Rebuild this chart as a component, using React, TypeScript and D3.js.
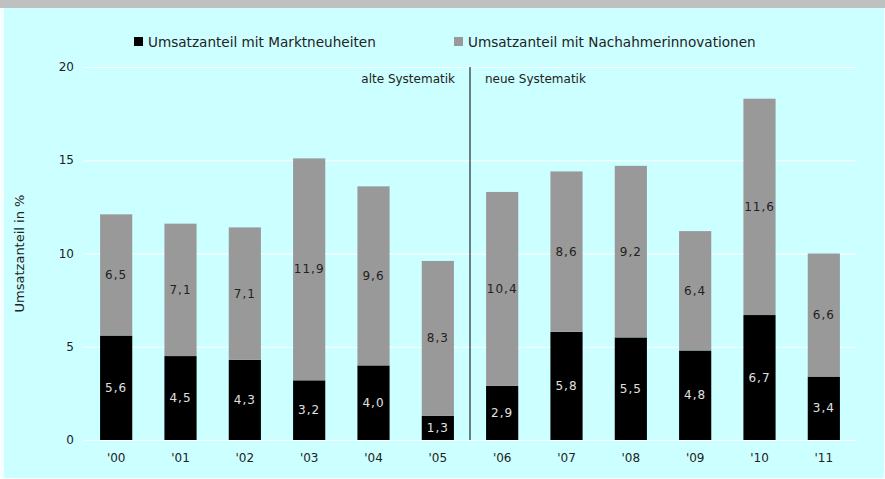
import { useRef, useEffect } from "react";
import * as d3 from "d3";

const years = ["'00", "'01", "'02", "'03", "'04", "'05", "'06", "'07", "'08", "'09", "'10", "'11"];
const marktneuheiten = [5.6, 4.5, 4.3, 3.2, 4.0, 1.3, 2.9, 5.8, 5.5, 4.8, 6.7, 3.4];
const nachahmer = [6.5, 7.1, 7.1, 11.9, 9.6, 8.3, 10.4, 8.6, 9.2, 6.4, 11.6, 6.6];
const yTicks = [0, 5, 10, 15, 20];
const seriesNames = ["Umsatzanteil mit Marktneuheiten", "Umsatzanteil mit Nachahmerinnovationen"];
const colors = ["#000000", "#999999"];

const W = 885;
const H = 479;
const font = "DejaVu Sans, Verdana, sans-serif";

export default function App() {
  const svgRef = useRef<SVGSVGElement>(null);

  useEffect(() => {
    const svg = d3.select(svgRef.current);
    svg.selectAll("*").remove();

    // background
    svg.append("rect").attr("width", W).attr("height", H).attr("fill", "#f4ffff");
    svg.append("rect").attr("x", 4).attr("y", 0).attr("width", W - 5).attr("height", H - 1).attr("fill", "#ccffff");
    svg.append("rect").attr("x", 0).attr("y", 0).attr("width", W).attr("height", 8).attr("fill", "#c0c0c0");

    const x = d3.scaleBand().domain(years).range([84, 856]).paddingInner(0.5).paddingOuter(0.25);
    const y = d3.scaleLinear().domain([0, 20]).range([440, 67]);

    // gridlines
    svg.append("g")
      .selectAll("line")
      .data(yTicks)
      .join("line")
      .attr("x1", 84)
      .attr("x2", 856)
      .attr("y1", (d) => y(d) + 0.5)
      .attr("y2", (d) => y(d) + 0.5)
      .attr("stroke", "#ffffff")
      .attr("stroke-width", 1.2);

    svg.append("g")
      .selectAll("text")
      .data(yTicks)
      .join("text")
      .attr("x", 74)
      .attr("y", (d) => y(d) + 4)
      .attr("text-anchor", "end")
      .attr("font-family", font)
      .attr("font-size", 12)
      .attr("fill", "#222")
      .text((d) => d);

    svg.append("text")
      .attr("transform", `translate(24,${y(10)}) rotate(-90)`)
      .attr("text-anchor", "middle")
      .attr("font-family", font)
      .attr("font-size", 13)
      .attr("fill", "#222")
      .text("Umsatzanteil in %");

    const stacked = years.map((yr, i) => ({ yr, a: marktneuheiten[i], b: nachahmer[i] }));
    const fmt = (v: number) => v.toFixed(1).replace(".", ",");

    const g = svg.append("g");
    const bar = g.selectAll("g").data(stacked).join("g");
    bar.append("rect")
      .attr("x", (d) => x(d.yr)!)
      .attr("width", x.bandwidth())
      .attr("y", (d) => y(d.a))
      .attr("height", (d) => y(0) - y(d.a))
      .attr("fill", colors[0]);
    bar.append("rect")
      .attr("x", (d) => x(d.yr)!)
      .attr("width", x.bandwidth())
      .attr("y", (d) => y(d.a + d.b))
      .attr("height", (d) => y(d.a) - y(d.a + d.b))
      .attr("fill", colors[1]);
    bar.append("text")
      .attr("x", (d) => x(d.yr)! + x.bandwidth() / 2)
      .attr("y", (d) => y(d.a / 2) + 4)
      .attr("text-anchor", "middle")
      .attr("font-family", font)
      .attr("font-size", 12)
      .attr("letter-spacing", 1)
      .attr("fill", "#e0e0e0")
      .text((d) => fmt(d.a));
    bar.append("text")
      .attr("x", (d) => x(d.yr)! + x.bandwidth() / 2)
      .attr("y", (d) => y(d.a + d.b / 2) + 4)
      .attr("text-anchor", "middle")
      .attr("font-family", font)
      .attr("font-size", 12)
      .attr("letter-spacing", 1)
      .attr("fill", "#222")
      .text((d) => fmt(d.b));

    // x labels
    svg.append("g")
      .selectAll("text")
      .data(years)
      .join("text")
      .attr("x", (d) => x(d)! + x.bandwidth() / 2)
      .attr("y", 462)
      .attr("text-anchor", "middle")
      .attr("font-family", font)
      .attr("font-size", 12)
      .attr("fill", "#222")
      .text((d) => d);

    // divider between old and new system
    const divX = x(years[6])! - (x.step() - x.bandwidth()) / 2;
    svg.append("line")
      .attr("x1", divX)
      .attr("x2", divX)
      .attr("y1", y(20))
      .attr("y2", y(0))
      .attr("stroke", "#000")
      .attr("stroke-width", 1);
    svg.append("text")
      .attr("x", divX - 15)
      .attr("y", 83)
      .attr("text-anchor", "end")
      .attr("font-family", font)
      .attr("font-size", 12)
      .attr("fill", "#222")
      .text("alte Systematik");
    svg.append("text")
      .attr("x", divX + 15)
      .attr("y", 83)
      .attr("font-family", font)
      .attr("font-size", 12)
      .attr("fill", "#222")
      .text("neue Systematik");

    // legend
    const legX = [134, 454];
    seriesNames.forEach((name, i) => {
      svg.append("rect")
        .attr("x", legX[i])
        .attr("y", 37)
        .attr("width", 9)
        .attr("height", 9)
        .attr("fill", colors[i]);
      svg.append("text")
        .attr("x", legX[i] + 14)
        .attr("y", 46.5)
        .attr("font-family", font)
        .attr("font-size", 13.6)
        .attr("fill", "#222")
        .text(name);
    });
  }, []);

  return (
    <svg
      ref={svgRef}
      width={W}
      height={H}
      style={{ position: "absolute", left: 0, top: 0, display: "block" }}
    />
  );
}
